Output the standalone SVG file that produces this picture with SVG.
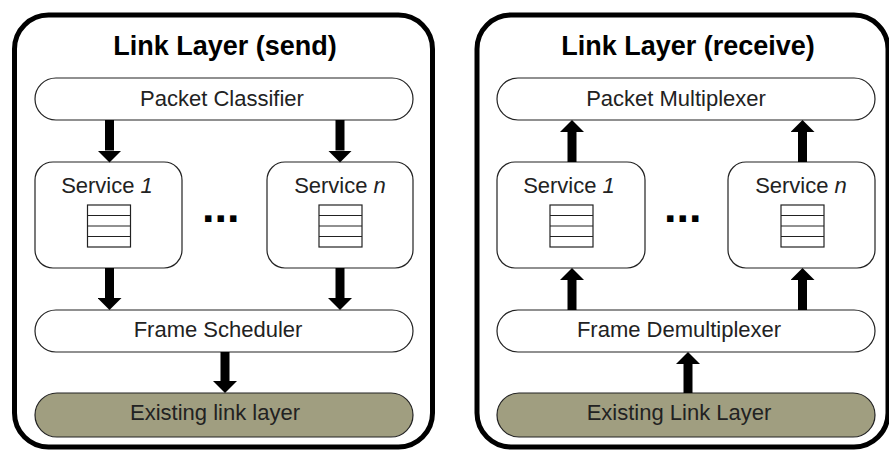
<svg xmlns="http://www.w3.org/2000/svg" width="889" height="450" viewBox="0 0 889 450">
<style>
.outer{fill:#fff;stroke:#000;stroke-width:5}
.pill{fill:#fff;stroke:#222;stroke-width:1.2}
.base{fill:#a09e80;stroke:#222;stroke-width:1.2}
.svc{fill:#fff;stroke:#222;stroke-width:1.2}
.q{fill:#fff;stroke:#222;stroke-width:1.2}
.title{font-family:"Liberation Sans",Arial,sans-serif;font-weight:bold;font-size:27px;fill:#000;text-anchor:middle}
.lbl{font-family:"Liberation Sans",Arial,sans-serif;font-size:22px;fill:#222;text-anchor:middle}
.dots{font-family:"Liberation Sans",Arial,sans-serif;font-weight:bold;font-size:45px;fill:#000}
.arr{stroke:#000;stroke-width:9;fill:none;marker-end:url(#head)}
</style>
<defs>
<marker id="head" viewBox="0 0 12 24" refX="0" refY="12" markerWidth="12" markerHeight="24" markerUnits="userSpaceOnUse" orient="auto">
<path d="M0,0 L12,12 L0,24 Z" fill="#000"/>
</marker>
<g id="queue">
<rect class="q" x="0" y="0" width="43" height="42"/>
<line class="q" x1="0" y1="10.5" x2="43" y2="10.5"/>
<line class="q" x1="0" y1="21" x2="43" y2="21"/>
<line class="q" x1="0" y1="31.5" x2="43" y2="31.5"/>
</g>
</defs>

<g id="send-layer">
<rect class="outer" x="14.5" y="15" width="418" height="432" rx="34"/>
<text class="title" x="225" y="55">Link Layer (send)</text>
</g>
<g id="packet-classifier">
<rect class="pill" x="35" y="78" width="378" height="42" rx="21"/>
<text class="lbl" x="222" y="106">Packet Classifier</text>
</g>
<g id="send-service-1">
<rect class="svc" x="35" y="162" width="147" height="106" rx="18"/>
<text class="lbl" x="107" y="193">Service <tspan font-style="italic">1</tspan></text>
<use href="#queue" x="87.5" y="205"/>
</g>
<g id="send-dots">
<text class="dots" x="202" y="222">...</text>
</g>
<g id="send-service-n">
<rect class="svc" x="267" y="162" width="146" height="106" rx="18"/>
<text class="lbl" x="340" y="193">Service <tspan font-style="italic">n</tspan></text>
<use href="#queue" x="319" y="205"/>
</g>
<g id="frame-scheduler">
<rect class="pill" x="35" y="310" width="378" height="42" rx="21"/>
<text class="lbl" x="218" y="337">Frame Scheduler</text>
</g>
<g id="send-existing">
<rect class="base" x="35" y="393" width="378" height="44" rx="22"/>
<text class="lbl" x="215" y="420">Existing link layer</text>
</g>

<g id="receive-layer">
<rect class="outer" x="477" y="15" width="411" height="432" rx="34"/>
<text class="title" x="688" y="55">Link Layer (receive)</text>
</g>
<g id="packet-multiplexer">
<rect class="pill" x="497" y="78" width="378" height="42" rx="21"/>
<text class="lbl" x="676" y="106">Packet Multiplexer</text>
</g>
<g id="recv-service-1">
<rect class="svc" x="497" y="162" width="148" height="106" rx="18"/>
<text class="lbl" x="569" y="193">Service <tspan font-style="italic">1</tspan></text>
<use href="#queue" x="550" y="205"/>
</g>
<g id="recv-dots">
<text class="dots" x="664" y="222">...</text>
</g>
<g id="recv-service-n">
<rect class="svc" x="728" y="162" width="147" height="106" rx="18"/>
<text class="lbl" x="801" y="193">Service <tspan font-style="italic">n</tspan></text>
<use href="#queue" x="781" y="205"/>
</g>
<g id="frame-demultiplexer">
<rect class="pill" x="497" y="310" width="378" height="42" rx="21"/>
<text class="lbl" x="679" y="337">Frame Demultiplexer</text>
</g>
<g id="recv-existing">
<rect class="base" x="497" y="393" width="378" height="44" rx="22"/>
<text class="lbl" x="679" y="420">Existing Link Layer</text>
</g>

<g id="connectors">
<line class="arr" x1="109.5" y1="120" x2="109.5" y2="150.5"/>
<line class="arr" x1="340" y1="120" x2="340" y2="150.5"/>
<line class="arr" x1="109.5" y1="268" x2="109.5" y2="298"/>
<line class="arr" x1="340" y1="268" x2="340" y2="298"/>
<line class="arr" x1="225" y1="352" x2="225" y2="381"/>
<line class="arr" x1="572" y1="162" x2="572" y2="132"/>
<line class="arr" x1="802.5" y1="162" x2="802.5" y2="132"/>
<line class="arr" x1="572" y1="310" x2="572" y2="280"/>
<line class="arr" x1="802.5" y1="310" x2="802.5" y2="280"/>
<line class="arr" x1="688" y1="393" x2="688" y2="364"/>
</g>
</svg>
